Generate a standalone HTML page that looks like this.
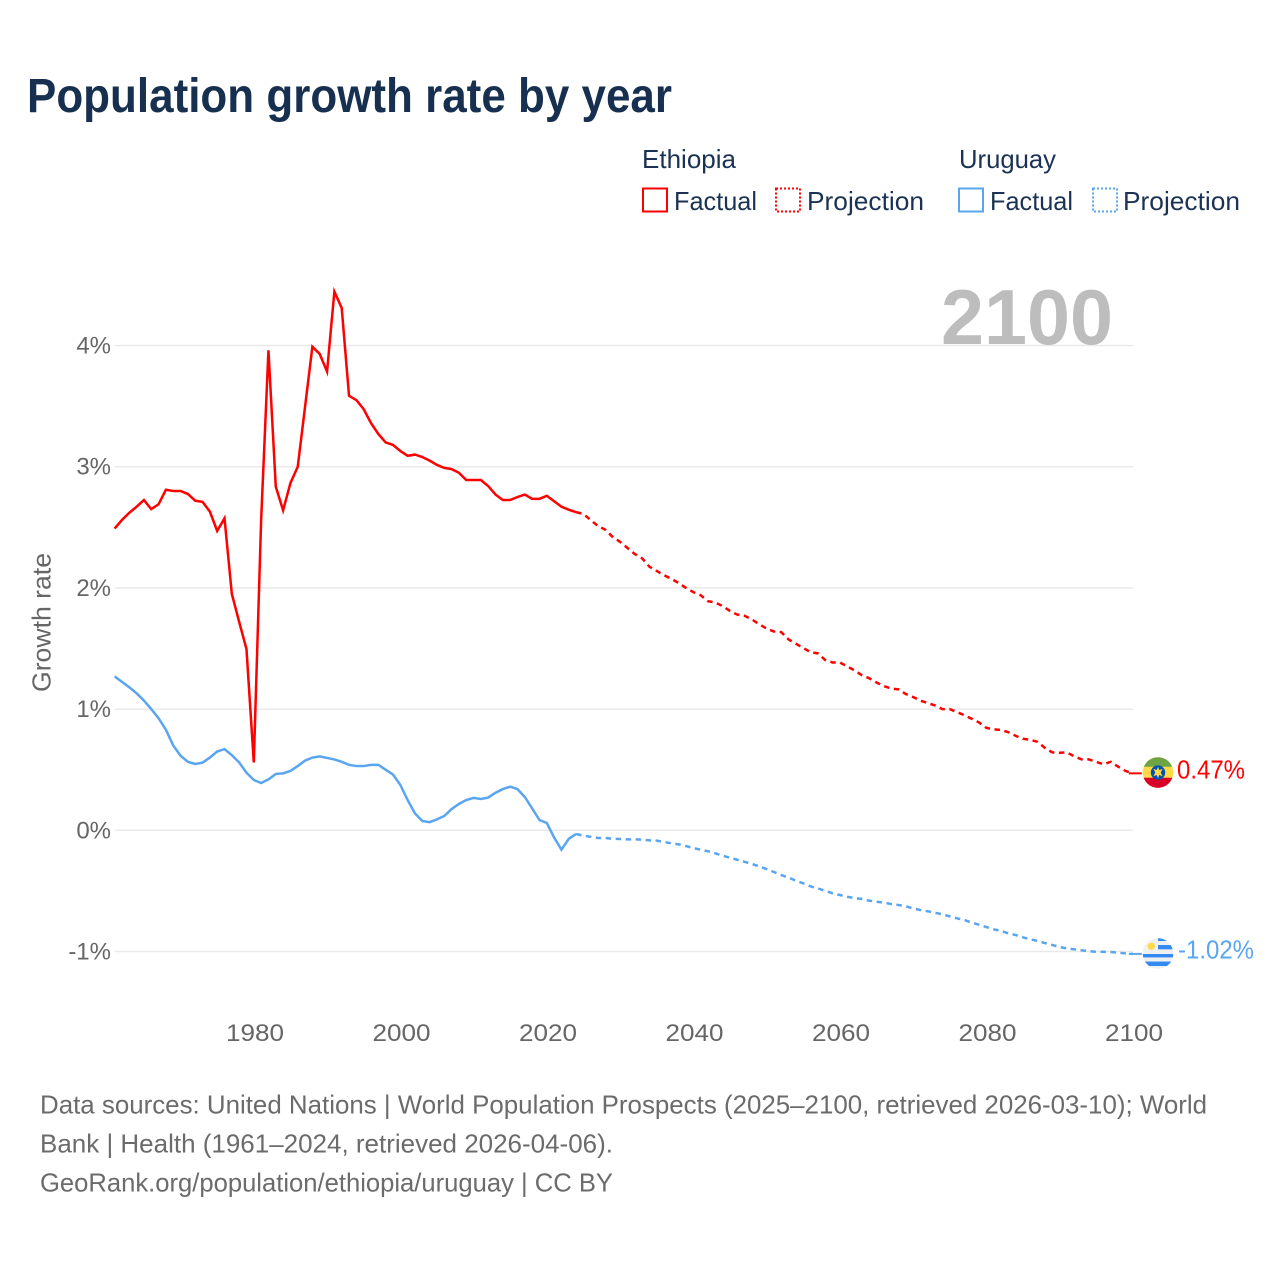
<!DOCTYPE html>
<html lang="en">
<head>
<meta charset="utf-8">
<title>Population growth rate by year</title>
<style>
  html, body { margin: 0; padding: 0; background: #fff; }
  svg { display: block; }
  text { font-family: "Liberation Sans", sans-serif; }
  .tick { font-size: 24px; fill: #666; }
  .legend { font-size: 26px; fill: #1a3354; }
  .foot { font-size: 26px; fill: #6b6b6b; }
</style>
</head>
<body>
<svg id="chart" xmlns="http://www.w3.org/2000/svg" width="1280" height="1280" viewBox="0 0 1280 1280">
  <rect width="1280" height="1280" fill="#fff"/>
  <text x="27" y="112" font-size="48" font-weight="700" fill="#17304f" textLength="645" lengthAdjust="spacingAndGlyphs">Population growth rate by year</text>

  <g>
    <text class="legend" x="642" y="168" textLength="94" lengthAdjust="spacingAndGlyphs">Ethiopia</text>
    <g>
      <rect x="643" y="188.5" width="24" height="23" fill="none" stroke="#ff0000" stroke-width="2"/>
      <text class="legend" x="674" y="210" textLength="83" lengthAdjust="spacingAndGlyphs">Factual</text>
    </g>
    <g>
      <rect x="776" y="188.5" width="24" height="23" fill="none" stroke="#ff0000" stroke-width="2" stroke-dasharray="2 2"/>
      <text class="legend" x="807" y="210" textLength="117" lengthAdjust="spacingAndGlyphs">Projection</text>
    </g>
    <text class="legend" x="959" y="168" textLength="97" lengthAdjust="spacingAndGlyphs">Uruguay</text>
    <g>
      <rect x="959" y="188.5" width="24" height="23" fill="none" stroke="#5aa5f0" stroke-width="2"/>
      <text class="legend" x="990" y="210" textLength="83" lengthAdjust="spacingAndGlyphs">Factual</text>
    </g>
    <g>
      <rect x="1093" y="188.5" width="24" height="23" fill="none" stroke="#5aa5f0" stroke-width="2" stroke-dasharray="2 2"/>
      <text class="legend" x="1123" y="210" textLength="117" lengthAdjust="spacingAndGlyphs">Projection</text>
    </g>
  </g>

  <g id="grid"></g>
  <text x="941" y="344" font-size="78" font-weight="700" fill="#bdbdbd" textLength="172" lengthAdjust="spacingAndGlyphs">2100</text>
  <g id="yticks"></g>
  <g id="xticks"></g>
  <text transform="translate(50.5 692) rotate(-90)" font-size="26" fill="#666" textLength="139" lengthAdjust="spacingAndGlyphs">Growth rate</text>

  <g id="series"></g>

  <defs>
    <clipPath id="clip-eth"><circle cx="0" cy="0" r="15.3"/></clipPath>
    <clipPath id="clip-uru"><circle cx="0" cy="0" r="15.3"/></clipPath>
  </defs>
  <g id="flag-ethiopia">
    <g clip-path="url(#clip-eth)">
      <rect x="-16" y="-16" width="32" height="32" fill="#ffda44"/>
      <rect x="-16" y="-16" width="32" height="10.2" fill="#6da544"/>
      <rect x="-16" y="5.2" width="32" height="11" fill="#d80027"/>
    </g>
    <circle r="7.2" fill="#0052b4"/>
    <circle r="2.8" fill="#ffda44"/>
    <path d="M0-5.8 1.2-2.5 4.6-3.6 2.6 0 4.6 3.6 1.2 2.5 0 5.8-1.2 2.5-4.6 3.6-2.6 0-4.6-3.6-1.2-2.5Z" fill="#ffda44"/>
  </g>
  <g id="flag-uruguay">
    <g clip-path="url(#clip-uru)">
      <rect x="-16" y="-16" width="32" height="32" fill="#f0f0f0"/>
      <rect x="0" y="-16" width="16" height="3.5" fill="#338af3"/>
      <rect x="0" y="-8.5" width="16" height="4.3" fill="#338af3"/>
      <rect x="-16" y="0.5" width="32" height="3.4" fill="#338af3"/>
      <rect x="-16" y="8" width="32" height="4.5" fill="#338af3"/>
    </g>
    <circle cx="-6.7" cy="-7.3" r="3.6" fill="#ffda44"/>
  </g>
  <text id="label-ethiopia" x="1177" font-size="26" fill="#ff0000" textLength="68" lengthAdjust="spacingAndGlyphs"></text>
  <text id="label-uruguay" x="1178" font-size="26" fill="#5aa5f0" textLength="76" lengthAdjust="spacingAndGlyphs"></text>

  <g>
    <text class="foot" x="40" y="1113.5" textLength="1167" lengthAdjust="spacingAndGlyphs">Data sources: United Nations | World Population Prospects (2025–2100, retrieved 2026-03-10); World</text>
    <text class="foot" x="40" y="1152.5" textLength="573" lengthAdjust="spacingAndGlyphs">Bank | Health (1961–2024, retrieved 2026-04-06).</text>
    <text class="foot" x="40" y="1191.5" textLength="573" lengthAdjust="spacingAndGlyphs">GeoRank.org/population/ethiopia/uruguay | CC BY</text>
  </g>
</svg>

<script>
const factualYears = [1961,1962,1963,1964,1965,1966,1967,1968,1969,1970,1971,1972,1973,1974,1975,1976,1977,1978,1979,1980,1981,1982,1983,1984,1985,1986,1987,1988,1989,1990,1991,1992,1993,1994,1995,1996,1997,1998,1999,2000,2001,2002,2003,2004,2005,2006,2007,2008,2009,2010,2011,2012,2013,2014,2015,2016,2017,2018,2019,2020,2021,2022,2023,2024];
const projectionYears = [2025,2026,2027,2028,2029,2030,2031,2032,2033,2034,2035,2036,2037,2038,2039,2040,2041,2042,2043,2044,2045,2046,2047,2048,2049,2050,2051,2052,2053,2054,2055,2056,2057,2058,2059,2060,2061,2062,2063,2064,2065,2066,2067,2068,2069,2070,2071,2072,2073,2074,2075,2076,2077,2078,2079,2080,2081,2082,2083,2084,2085,2086,2087,2088,2089,2090,2091,2092,2093,2094,2095,2096,2097,2098,2099,2100];
const ethiopiaFactual = [2.49,2.56,2.62,2.67,2.725,2.65,2.69,2.81,2.80,2.80,2.775,2.72,2.71,2.63,2.47,2.575,1.95,1.72,1.495,0.56,2.56,3.96,2.835,2.64,2.865,3.00,3.495,3.99,3.93,3.785,4.445,4.31,3.585,3.55,3.475,3.36,3.27,3.2,3.18,3.13,3.09,3.10,3.08,3.05,3.015,2.99,2.98,2.95,2.89,2.89,2.89,2.84,2.77,2.725,2.725,2.75,2.77,2.735,2.735,2.76,2.715,2.67,2.645,2.625];
const ethiopiaProjection = [2.61,2.56,2.51,2.48,2.42,2.38,2.33,2.28,2.245,2.175,2.14,2.105,2.075,2.04,2.00,1.965,1.94,1.89,1.88,1.85,1.81,1.78,1.77,1.74,1.70,1.665,1.64,1.635,1.575,1.54,1.505,1.47,1.46,1.405,1.385,1.385,1.353,1.32,1.28,1.255,1.22,1.19,1.17,1.163,1.125,1.10,1.07,1.05,1.03,1.00,1.00,0.975,0.95,0.92,0.89,0.845,0.833,0.828,0.81,0.78,0.755,0.747,0.73,0.68,0.643,0.64,0.643,0.61,0.585,0.585,0.565,0.545,0.565,0.525,0.49,0.47];
const uruguayFactual = [1.27,1.225,1.18,1.13,1.07,1.00,0.925,0.83,0.70,0.615,0.565,0.547,0.558,0.60,0.65,0.67,0.62,0.56,0.475,0.415,0.39,0.42,0.465,0.47,0.49,0.53,0.575,0.60,0.61,0.597,0.585,0.565,0.54,0.53,0.53,0.54,0.54,0.50,0.46,0.375,0.25,0.14,0.077,0.067,0.09,0.118,0.175,0.217,0.25,0.267,0.258,0.27,0.31,0.34,0.36,0.34,0.275,0.18,0.085,0.06,-0.06,-0.16,-0.07,-0.03];
const uruguayProjection = [-0.045,-0.053,-0.063,-0.063,-0.07,-0.072,-0.075,-0.075,-0.077,-0.083,-0.085,-0.097,-0.107,-0.116,-0.13,-0.146,-0.16,-0.173,-0.19,-0.21,-0.226,-0.243,-0.26,-0.278,-0.297,-0.32,-0.344,-0.369,-0.39,-0.416,-0.437,-0.462,-0.48,-0.498,-0.52,-0.534,-0.548,-0.559,-0.567,-0.58,-0.589,-0.597,-0.608,-0.616,-0.627,-0.644,-0.658,-0.668,-0.68,-0.693,-0.71,-0.726,-0.74,-0.762,-0.779,-0.798,-0.817,-0.83,-0.85,-0.864,-0.883,-0.90,-0.913,-0.93,-0.946,-0.963,-0.974,-0.982,-0.99,-0.998,-1.002,-1.002,-1.004,-1.01,-1.015,-1.02];
const yTickValues = [4,3,2,1,0,-1];
const yTickLabels = ["4%","3%","2%","1%","0%","-1%"];
const xTickValues = [1980,2000,2020,2040,2060,2080,2100];
const xTickLabels = ["1980","2000","2020","2040","2060","2080","2100"];
const endLabels = ["0.47%","-1.02%"];

function xScale(year) { return 255 + (year - 1980) * 7.325; }
function yScale(value) { return 830.3 - value * 121.2; }
function lineX(year) { return xScale(year) - 1.2; }
const NS = "http://www.w3.org/2000/svg";
function make(tag, parent, attrs) {
  const el = document.createElementNS(NS, tag);
  for (const k in attrs) el.setAttribute(k, attrs[k]);
  parent.appendChild(el);
  return el;
}
function linePath(years, values) {
  return years.map((y, i) => (i ? "L" : "M") + lineX(y).toFixed(2) + " " + yScale(values[i]).toFixed(2)).join("");
}

const gridG = document.getElementById("grid");
const yG = document.getElementById("yticks");
yTickValues.forEach((v, i) => {
  const line = make("line", gridG, { x1: 115, x2: 1133, y1: yScale(v), y2: yScale(v), stroke: "#e9e9e9", "stroke-width": 1.5 });
  
  
  const label = make("text", yG, { class: "tick", x: 111, y: yScale(v) + 8, "text-anchor": "end" });
  
  
  label.textContent = yTickLabels[i];
});

const xG = document.getElementById("xticks");
xTickValues.forEach((v, i) => {
  const label = make("text", xG, { class: "tick", x: xScale(v) - 29, y: 1041, textLength: 58, lengthAdjust: "spacingAndGlyphs" });
  
  
  label.textContent = xTickLabels[i];
});

const seriesG = document.getElementById("series");
const RED = "#ff0000", BLUE = "#5aa5f0";
function drawProjection(factualValues, projValues, color) {
  const lastYear = factualYears[factualYears.length - 1];
  const lastVal = factualValues[factualValues.length - 1];
  const path = make("path", seriesG, {
    d: linePath([lastYear].concat(projectionYears), [lastVal].concat(projValues)),
    fill: "none", stroke: color, "stroke-width": 2.5, "stroke-dasharray": "5.5 4.5"
  });
  return path;
}
function drawFactual(values, color) {
  return make("path", seriesG, {
    d: linePath(factualYears, values),
    fill: "none", stroke: color, "stroke-width": 2.5, "stroke-linejoin": "miter", "stroke-miterlimit": 10
  });
}
function drawLeader(values, color) {
  const v = values[values.length - 1];
  const x = lineX(projectionYears[projectionYears.length - 1]);
  return make("line", seriesG, { x1: x - 4, x2: x + 9, y1: yScale(v), y2: yScale(v), stroke: color, "stroke-width": 2 });
}

const uruF = drawFactual(uruguayFactual, BLUE);


const uruP = drawProjection(uruguayFactual, uruguayProjection, BLUE);


const uruL = drawLeader(uruguayProjection, BLUE);


const ethF = drawFactual(ethiopiaFactual, RED);


const ethP = drawProjection(ethiopiaFactual, ethiopiaProjection, RED);


const ethL = drawLeader(ethiopiaProjection, RED);



const ethEndY = yScale(ethiopiaProjection[ethiopiaProjection.length - 1]);
const uruEndY = yScale(uruguayProjection[uruguayProjection.length - 1]);
document.getElementById("flag-ethiopia").setAttribute("transform", "translate(1158 " + (ethEndY - 0.8) + ")");
document.getElementById("flag-uruguay").setAttribute("transform", "translate(1158 " + (uruEndY - 0.4) + ")");
const ethLabel = document.getElementById("label-ethiopia");
ethLabel.setAttribute("y", ethEndY + 5.2);
ethLabel.textContent = endLabels[0];
const uruLabel = document.getElementById("label-uruguay");
uruLabel.setAttribute("y", uruEndY + 4.7);
uruLabel.textContent = endLabels[1];
</script>
</body>
</html>
